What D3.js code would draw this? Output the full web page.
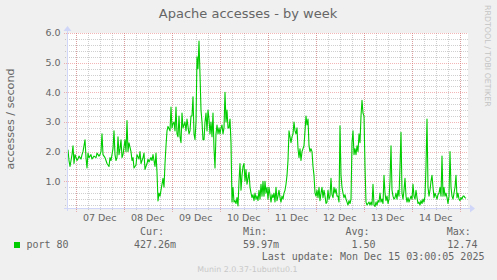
<!DOCTYPE html>
<html>
<head>
<meta charset="utf-8">
<script src="https://cdn.jsdelivr.net/npm/d3@7"></script>
<style>
  html, body { margin: 0; padding: 0; background: #f0f0f0; }
  svg { display: block; }
</style>
</head>
<body>
<svg id="munin-chart" width="497" height="280"></svg>
<script>
// Series: apache accesses / second, hours after 06 Dec 19:40 (UTC)
const hoursFromStart = [
  0, 0.5, 1, 1.5, 2.5, 3, 3.5, 4, 5, 5.5, 6, 7, 7.5, 8, 9, 9.5, 10, 10.5, 11, 12, 12.5, 13.5, 14.5, 15, 16, 16.5,
  17, 17.5, 18, 19, 19.5, 20, 21, 21.5, 22, 23, 23.5, 24, 24.5, 25, 25.5, 26, 26.5, 27, 27.5, 28, 29, 29.5, 30,
  30.5, 31, 32, 32.5, 33, 33.5, 34.5, 35, 36, 36.5, 37, 38, 38.5, 39, 40, 40.5, 41, 42, 42.5, 43, 44, 44.5, 45,
  45.5, 46, 46.5, 47, 48, 48.5, 49, 49.5, 50, 50.5,
  51.5, 52, 52.5, 53, 53.5, 54, 54.5, 55, 55.5, 56, 56.5, 57, 57.5, 58, 59, 59.5, 60, 61, 61.5, 62, 62.5, 63,
  63.5, 64, 64.5, 65, 65.5, 66, 66.5, 67, 67.5, 68, 68.5, 69, 69.5, 70, 70.5, 71, 71.5, 72, 72.5, 73, 73.5, 74,
  74.5, 75, 75.5, 76, 76.5, 77, 77.5, 78, 78.5, 79, 79.5, 80, 80.5, 81, 81.5, 82, 82.5, 83, 83.5, 84, 84.5, 85,
  85.5, 86, 86.5, 87, 87.5, 88, 88.5, 89, 89.5, 90, 90.5, 91, 91.5, 92, 92.5, 93, 93.5, 94, 94.5, 95, 95.5, 96,
  96.5, 97, 97.5, 98, 98.5, 99, 99.5, 100,
  100.5, 101, 101.5, 102, 102.5, 103, 103.5, 104, 104.5, 105, 105.5, 106, 106.5, 107, 107.5, 108, 108.5, 109,
  109.5, 110, 110.5, 111, 111.5, 112, 112.5, 113, 113.5, 114, 114.5, 115, 115.5, 116, 116.5, 117, 117.5, 118,
  118.5, 119, 119.5, 120, 120.5, 121, 121.5, 122, 122.5, 123, 123.5, 124, 124.5, 125, 125.5, 126, 126.5, 127,
  127.5, 128, 128.5, 129, 129.5, 130, 130.5, 131, 131.5, 132, 132.5, 133, 133.5, 134, 134.5, 135, 135.5, 136,
  136.5, 137, 137.5, 138, 138.5, 139, 139.5, 140, 140.5, 141, 141.5, 142, 142.5, 143, 143.5, 144, 144.5, 145,
  145.5, 146, 146.5, 147, 147.5, 148,
  148.5, 149, 149.5, 150, 150.5, 151, 151.5, 152, 152.5, 153, 153.5, 154, 154.5, 155, 155.5, 156, 156.5, 157,
  157.5, 158, 158.5, 159, 159.5, 160, 160.5, 161, 161.5, 162, 162.5, 163, 163.5, 164, 164.5, 165, 165.5, 166,
  166.5, 167, 167.5, 168, 168.5, 169, 169.5, 170, 170.5, 171, 171.5, 172, 172.5, 173, 173.5, 174, 174.5, 175,
  175.5, 176, 176.5, 177, 177.5, 178, 178.5, 179, 179.5, 180, 180.5, 181, 181.5, 182, 182.5, 183, 183.5, 184,
  184.5, 185, 185.5, 186, 186.5, 187, 187.5, 188, 188.5, 189, 189.5, 190, 190.5, 191, 191.5, 192, 192.5, 193,
  193.5, 194, 194.5, 195, 195.5, 196, 196.5, 197, 197.5, 198, 198.5, 199, 199.5
];
const accesses = [
  1.9, 2.05, 1.7, 1.5, 1.9, 2.2, 1.6, 1.9, 1.7, 1.75, 1.85, 1.75, 1.9, 2.0, 2.4, 1.8, 1.45, 1.95, 1.8, 1.9, 1.75, 1.85, 1.8, 1.95, 1.85, 1.9,
  2.0, 2.6, 1.9, 1.8, 1.7, 1.6, 1.5, 1.8, 1.7, 2.1, 2.7, 1.9, 1.7, 1.8, 2.5, 1.9, 2.1, 2.4, 1.8, 1.9, 2.4, 2.0, 3.05,
  2.0, 2.3, 2.0, 1.7, 1.8, 1.45, 1.55, 1.9, 1.75, 2.0, 1.6, 1.8, 1.95, 1.4, 1.6, 1.75, 1.65, 1.8, 1.7, 1.9, 1.5, 1.95, 1.3,
  0.34, 0.6, 0.5, 0.7, 1.1, 0.8, 1.6, 2.2, 2.7, 2.85,
  2.7, 3.5, 2.8, 2.95, 3.0, 2.7, 3.5, 2.6, 2.5, 3.2, 2.5, 2.3, 3.3, 2.8, 3.0, 2.7, 3.1, 2.6, 2.7, 3.2, 3.2, 3.85,
  2.6, 2.4, 3.0, 5.2, 4.8, 5.73, 4.6, 3.4, 3.0, 2.4, 2.4, 3.0, 3.3, 2.7, 3.4, 3.1, 2.6, 3.0, 2.5, 3.3, 2.1, 1.45,
  2.6, 2.9, 2.6, 2.8, 2.6, 2.8, 2.9, 2.6, 2.8, 4.0, 3.0, 3.4, 2.8, 2.8, 3.1, 2.3, 0.3, 0.8, 0.3, 0.35, 0.25, 0.45,
  0.17, 1.0, 1.6, 0.7, 1.2, 1.5, 1.6, 1.0, 1.4, 0.9, 1.1, 1.3, 0.8, 0.6, 0.45, 0.55, 0.35, 0.6, 0.4, 0.5, 0.35, 0.7,
  0.4, 0.9, 0.5, 1.0, 0.5, 1.0, 0.6, 0.8,
  0.4, 0.8, 0.55, 0.3, 0.55, 0.45, 0.6, 0.3, 0.8, 0.35, 0.5, 0.7, 0.45, 0.3, 0.5, 0.4, 0.6, 0.7,
  0.9, 1.2, 1.7, 2.7, 2.5, 2.3, 2.5, 2.6, 3.0, 2.7, 2.6, 2.8, 2.1, 1.8, 2.1, 1.7, 2.0, 2.1,
  2.2, 2.7, 3.2, 2.9, 3.1, 2.2, 2.0, 2.1, 2.0, 1.5, 1.2, 0.6, 0.5, 0.7, 0.45, 0.8, 0.35, 0.6,
  0.8, 0.45, 0.7, 0.5, 0.25, 0.3, 0.7, 0.4, 0.5, 1.1, 0.55, 0.45, 0.8, 0.6, 0.75, 0.5, 0.5, 0.3,
  2.87, 1.2, 0.8, 0.6, 0.45, 0.55, 0.4, 0.3, 0.2, 0.35, 0.25, 0.4, 2.3, 2.7, 1.9, 2.1, 1.9, 2.2,
  2.0, 2.6, 2.3, 3.2, 3.73, 3.3,
  3.2, 1.5, 0.3, 0.2, 0.25, 0.3, 0.2, 0.3, 0.2, 0.9, 0.2, 0.15, 0.3, 0.2, 0.35, 0.3, 0.6, 0.3,
  0.4, 0.25, 1.2, 0.6, 0.35, 0.5, 0.25, 0.4, 1.0, 2.2, 0.7, 0.5, 0.4, 0.45, 0.6, 0.4, 0.7, 0.5,
  1.5, 2.65, 0.6, 0.4, 0.7, 1.1, 0.5, 0.3, 0.45, 0.3, 0.4, 0.5, 0.4, 0.9, 0.5, 0.4, 0.7, 0.45,
  0.25, 0.3, 0.2, 0.35, 0.25, 0.4, 0.3, 0.5, 1.5, 3.1, 0.8, 0.5, 0.7, 1.0, 1.2, 0.8, 0.45, 0.6,
  0.5, 0.4, 0.55, 0.6, 0.8, 0.5, 1.85, 0.5, 0.8, 0.5, 0.6, 0.45, 0.25, 0.5, 2.0, 0.8, 0.5, 0.4,
  0.6, 0.8, 1.2, 0.45, 0.6, 0.4, 0.35, 0.45, 0.4, 0.5, 0.5, 0.45, 0.43
];

const yTickValues = [1, 2, 3, 4, 5, 6];
const labelDays = [7, 8, 9, 10, 11, 12, 13, 14];   // December 2025
const legendName = 'port 80';
const legendHeads = ['Cur:', 'Min:', 'Avg:', 'Max:'];
const legendValues = ['427.26m', '59.97m', '1.50', '12.74'];
const lastUpdate = 'Last update: Mon Dec 15 03:00:05 2025';

const start = Date.UTC(2025, 11, 6, 19, 40);
const data = hoursFromStart.map((h, i) => ({ time: new Date(start + h * 3600e3), value: accesses[i] }));

const width = 497;
const height = 280;
const plot = { left: 67, right: 468, top: 33, bottom: 208 };
const green = '#00cc00';
const axisColor = '#cfd6f8';
const minorColor = 'rgba(128,128,128,0.38)';
const majorColor = 'rgba(230,110,110,0.5)';
const sans = 'DejaVu Sans, sans-serif';
const mono = 'DejaVu Sans Mono, monospace';

const svg = d3.select('#munin-chart');

svg.append('rect').attr('width', width).attr('height', height).attr('fill', '#f0f0f0');
svg.append('rect')
    .attr('x', plot.left).attr('y', plot.top)
    .attr('width', plot.right - plot.left).attr('height', plot.bottom - plot.top)
    .attr('fill', '#ffffff');

const x = d3.scaleUtc()
    .domain([new Date(start), new Date(start + 200.5 * 3600e3)])
    .range([plot.left, plot.right]);

const y = d3.scaleLinear()
    .domain([0.1, 6.0])
    .range([plot.bottom, plot.top]);

// grid: minor every 6 h / 0.2, major at midnight / whole units
const minorX = d3.utcHour.every(6).range(x.domain()[0], x.domain()[1]);
const majorX = d3.utcDay.range(x.domain()[0], x.domain()[1]);
const minorY = d3.range(0.2, 6.01, 0.2).filter(v => Math.abs(v - Math.round(v)) > 0.01);

const grid = svg.append('g')
    .attr('shape-rendering', 'crispEdges')
    .attr('stroke-dasharray', '1,1');

grid.selectAll('.gx').data(minorX).enter().append('line')
    .attr('x1', d => Math.round(x(d)) + 0.5).attr('x2', d => Math.round(x(d)) + 0.5)
    .attr('y1', plot.top).attr('y2', plot.bottom + 3)
    .attr('stroke', minorColor);

grid.selectAll('.gy').data(minorY).enter().append('line')
    .attr('x1', plot.left - 2).attr('x2', plot.right)
    .attr('y1', d => Math.round(y(d)) + 0.5).attr('y2', d => Math.round(y(d)) + 0.5)
    .attr('stroke', minorColor);

grid.selectAll('.mx').data(majorX).enter().append('line')
    .attr('x1', d => Math.round(x(d)) + 0.5).attr('x2', d => Math.round(x(d)) + 0.5)
    .attr('y1', plot.top).attr('y2', plot.bottom + 4)
    .attr('stroke', majorColor);

grid.selectAll('.my').data(yTickValues).enter().append('line')
    .attr('x1', plot.left - 3).attr('x2', plot.right)
    .attr('y1', d => Math.round(y(d)) + 0.5).attr('y2', d => Math.round(y(d)) + 0.5)
    .attr('stroke', majorColor);

// data line
svg.append('clipPath').attr('id', 'plot-clip')
    .append('rect')
    .attr('x', plot.left).attr('y', plot.top)
    .attr('width', plot.right - plot.left).attr('height', plot.bottom - plot.top);

const line = d3.line()
    .x(d => x(d.time))
    .y(d => y(d.value));

svg.append('path')
    .datum(data)
    .attr('clip-path', 'url(#plot-clip)')
    .attr('d', line)
    .attr('fill', 'none')
    .attr('stroke', green)
    .attr('stroke-width', 1.1)
    .attr('stroke-linejoin', 'round');

// axes with arrows
svg.append('line')
    .attr('x1', plot.left - 3).attr('x2', plot.right + 3)
    .attr('y1', plot.bottom + 0.5).attr('y2', plot.bottom + 0.5)
    .attr('stroke', axisColor).attr('shape-rendering', 'crispEdges');
svg.append('line')
    .attr('x1', plot.left + 0.5).attr('x2', plot.left + 0.5)
    .attr('y1', plot.top - 4).attr('y2', plot.bottom + 3)
    .attr('stroke', axisColor).attr('shape-rendering', 'crispEdges');
svg.append('path')
    .attr('d', `M${plot.right + 2},${plot.bottom - 3.5}L${plot.right + 7},${plot.bottom + 0.5}L${plot.right + 2},${plot.bottom + 4.5}Z`)
    .attr('fill', axisColor);
svg.append('path')
    .attr('d', `M${plot.left - 3.5},${plot.top - 2}L${plot.left + 0.5},${plot.top - 7}L${plot.left + 4.5},${plot.top - 2}Z`)
    .attr('fill', axisColor);

// tick labels
svg.selectAll('.ylab').data(yTickValues).enter().append('text')
    .attr('x', 60.5)
    .attr('y', d => y(d))
    .attr('dy', '0.36em')
    .attr('text-anchor', 'end')
    .style('font-family', sans).style('font-size', '9.5px').style('fill', '#666')
    .text(d => d3.format('.1f')(d));

const dayFormat = d3.utcFormat('%d %b');
svg.selectAll('.xlab').data(labelDays).enter().append('text')
    .attr('x', d => x(new Date(Date.UTC(2025, 11, d, 12))))
    .attr('y', 221)
    .attr('text-anchor', 'middle')
    .style('font-family', sans).style('font-size', '9.5px').style('fill', '#666')
    .text(d => dayFormat(new Date(Date.UTC(2025, 11, d, 12))));

// titles
svg.append('text')
    .attr('x', 248).attr('y', 18)
    .attr('text-anchor', 'middle')
    .style('font-family', sans).style('font-size', '13px').style('fill', '#666')
    .text('Apache accesses - by week');

svg.append('text')
    .attr('transform', 'translate(14,119) rotate(-90)')
    .attr('text-anchor', 'middle')
    .style('font-family', sans).style('font-size', '11.2px').style('fill', '#666')
    .text('accesses / second');

svg.append('text')
    .attr('transform', 'translate(484.5,5) rotate(90)')
    .style('font-family', sans).style('font-size', '7.9px').style('fill', '#c4c4c4')
    .text('RRDTOOL / TOBI OETIKER');

// legend
svg.append('rect')
    .attr('x', 14).attr('y', 242).attr('width', 6).attr('height', 6)
    .attr('fill', green);

const legend = svg.append('g')
    .style('font-family', mono).style('font-size', '10px').style('fill', '#666');

legend.append('text').attr('x', 26.5).attr('y', 248).text(legendName);

const headX = [140, 243, 345.5, 446.7];
const valueX = [134, 243, 351.5, 447.3];
legend.selectAll('.head').data(legendHeads).enter().append('text')
    .attr('x', (d, i) => headX[i]).attr('y', 235)
    .text(d => d);
legend.selectAll('.val').data(legendValues).enter().append('text')
    .attr('x', (d, i) => valueX[i]).attr('y', 248)
    .text(d => d);

legend.append('text').attr('x', 261.7).attr('y', 259.5).text(lastUpdate);

svg.append('text')
    .attr('x', 197.3).attr('y', 271.5)
    .style('font-family', sans).style('font-size', '7.9px').style('fill', '#c8c8c8')
    .text('Munin 2.0.37-1ubuntu0.1');
</script>
</body>
</html>
